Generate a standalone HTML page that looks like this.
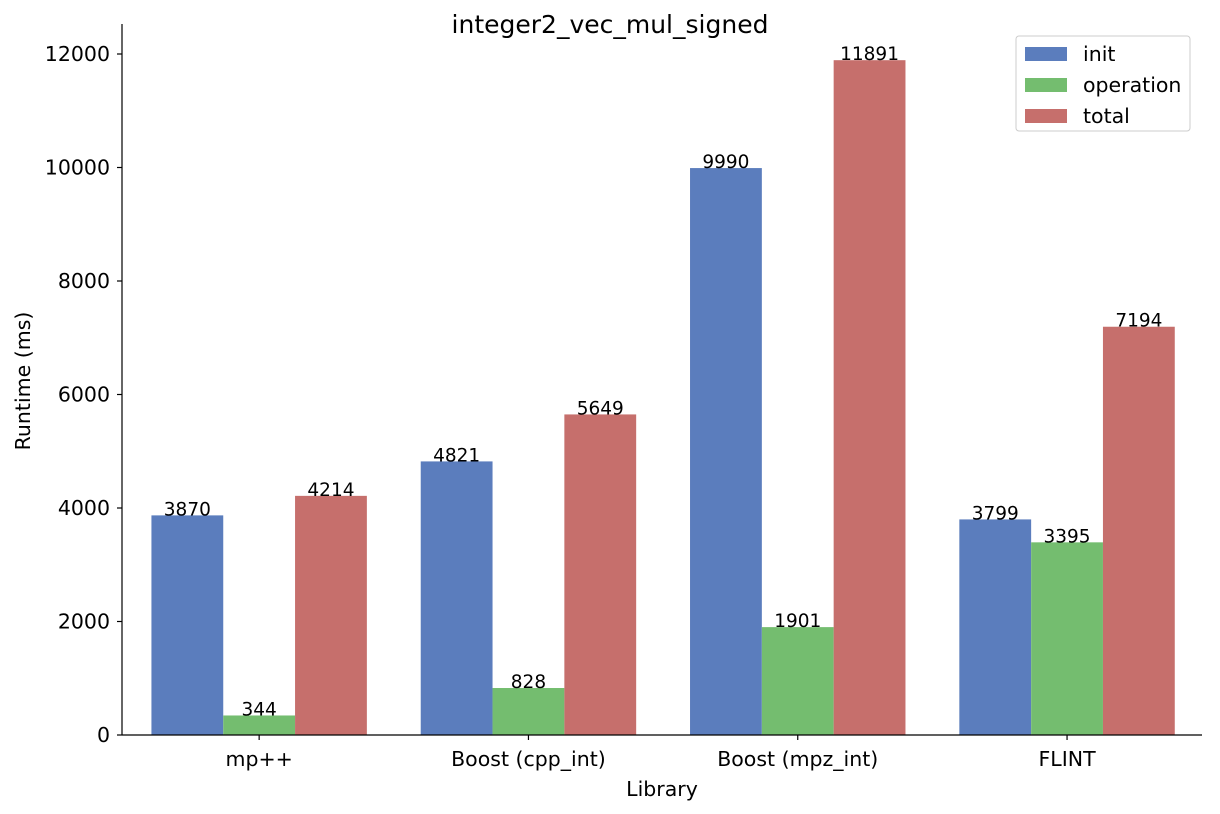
<!DOCTYPE html>
<html><head><meta charset="utf-8"><style>
html,body{margin:0;padding:0;background:#fff;}
svg{display:block;font-family:"DejaVu Sans","Liberation Sans",sans-serif;}
</style></head><body>
<svg id="chart" width="1220" height="814">
<text x="610" y="33" font-size="25" text-anchor="middle">integer2_vec_mul_signed</text>
<text transform="translate(30,381) rotate(-90)" font-size="20.5" text-anchor="middle">Runtime (ms)</text>
<text x="662" y="796" font-size="20.5" text-anchor="middle">Library</text>
<g id="yticks"></g>
<g id="xticks"></g>
<g id="bars"></g>
<line x1="122" y1="24" x2="122" y2="735" stroke="#000" stroke-width="1.2"/>
<line x1="122" y1="735" x2="1202" y2="735" stroke="#000" stroke-width="1.2"/>
<g>
<rect x="1016" y="36" width="174" height="95" rx="3" fill="#fff" stroke="#ccc"/>
<g id="legend"></g>
</g>
</svg>
<script>
const categories = ["mp++", "Boost (cpp_int)", "Boost (mpz_int)", "FLINT"];
const seriesNames = ["init", "operation", "total"];
const initVals = [3870, 4821, 9990, 3799];
const operationVals = [344, 828, 1901, 3395];
const totalVals = [4214, 5649, 11891, 7194];
const yTicks = [0, 2000, 4000, 6000, 8000, 10000, 12000];
const colors = ["#5b7dbd", "#74bd6f", "#c66f6c"];
const series = [initVals, operationVals, totalVals];

const NS = "http://www.w3.org/2000/svg";
const x0 = 122, yBase = 735, yTop12k = 54;
const gStart = 124.5, groupW = 269.3;
const yScale = v => yBase - v * (yBase - yTop12k) / 12000;
const xCenter = i => gStart + groupW * (i + 0.5);
const barW = groupW * 0.8 / seriesNames.length;
function mk(tag, attrs, parent){const e=document.createElementNS(NS,tag);for(const k in attrs)e.setAttribute(k,attrs[k]);parent.appendChild(e);return e;}

const yt = document.getElementById("yticks");
yTicks.forEach(v=>{
  const y=yScale(v);
  const l=mk("line",{x1:x0-5,x2:x0,y1:y,y2:y,stroke:"#000","stroke-width":1.2},yt);
  
  
  const t=mk("text",{x:x0-12,y:y+7,"font-size":20.5,"text-anchor":"end"},yt);
  t.textContent=v;
  
  
});
const xt = document.getElementById("xticks");
categories.forEach((c,i)=>{
  const x=xCenter(i);
  const l=mk("line",{x1:x,x2:x,y1:yBase,y2:yBase+5,stroke:"#000","stroke-width":1.2},xt);
  
  
  const t=mk("text",{x:x,y:yBase+31,"font-size":20.5,"text-anchor":"middle"},xt);
  t.textContent=c;
  
  
});
const bg = document.getElementById("bars");
categories.forEach((c,i)=>{
  series.forEach((s,j)=>{
    const v=s[i];
    const bx=xCenter(i)-groupW*0.4+j*barW;
    const y=yScale(v);
    const r=mk("rect",{x:bx,y:y,width:barW,height:yBase-y,fill:colors[j]},bg);
    
    
    const t=mk("text",{x:bx+barW/2,y:y,"font-size":18.5,"text-anchor":"middle"},bg);
    t.textContent=v;
    
    
  });
});
const lg = document.getElementById("legend");
seriesNames.forEach((n,j)=>{
  const y=53+j*31;
  const r=mk("rect",{x:1025,y:y-6,width:42,height:14,fill:colors[j]},lg);
  
  
  const t=mk("text",{x:1083,y:y+8,"font-size":20.5},lg);
  t.textContent=n;
  
  
});
</script>
</body></html>
